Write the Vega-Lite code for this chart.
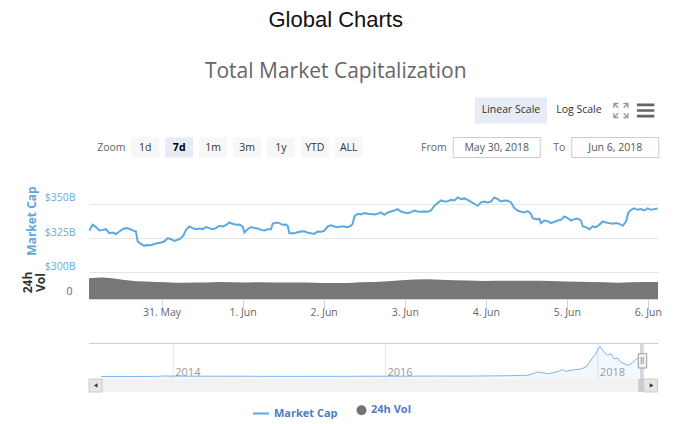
{
  "$schema": "https://vega.github.io/schema/vega-lite/v6.json",
  "background": "white",
  "padding": {"left": 21, "top": 9, "right": 5, "bottom": 0},
  "autosize": {"type": "pad"},
  "bounds": "flush",
  "spacing": 0,
  "title": {
    "text": "Global Charts",
    "subtitle": "Total Market Capitalization",
    "anchor": "middle",
    "frame": "bounds",
    "font": "Liberation Sans",
    "fontSize": 22,
    "fontWeight": "normal",
    "color": "#111111",
    "subtitleFont": "Open Sans",
    "subtitleFontSize": 21,
    "subtitleColor": "#666666",
    "subtitlePadding": 29,
    "offset": 6,
    "dx": -6
  },
  "config": {
    "view": {"stroke": null},
    "font": "Open Sans",
    "text": {"font": "Open Sans"},
    "axis": {"labelFont": "Open Sans", "titleFont": "Open Sans"},
    "concat": {"spacing": 0}
  },
  "vconcat": [
    {
      "width": 569,
      "height": 80,
      "layer": [
        {
          "data": {"values": [{"label": "Zoom"}, {"label": "1d"}, {"label": "7d"}, {"label": "1m"}, {"label": "3m"}, {"label": "1y"}, {"label": "YTD"}, {"label": "ALL"}]},
          "encoding": {
            "x": {"field": "label", "type": "nominal", "axis": null, "scale": {"type": "band", "domain": ["Zoom", "1d", "7d", "1m", "3m", "1y", "YTD", "ALL", "_a", "_b", "_c", "_d", "_e", "_f", "_g", "_h"], "paddingInner": 0, "paddingOuter": 0.392, "align": 0.205, "round": false}},
            "y": {"datum": "r2", "type": "nominal", "axis": null, "scale": {"type": "band", "domain": ["r1", "r2"], "paddingInner": 0, "paddingOuter": 0.081, "round": false}}
          },
          "layer": [
            {
              "transform": [{"filter": "datum.label != 'Zoom'"}],
              "mark": {"type": "rect", "width": 28, "height": 20},
              "encoding": {"fill": {"condition": {"test": "datum.label == '7d'", "value": "#e6ebf5"}, "value": "#f7f7f7"}}
            },
            {
              "transform": [{"filter": "datum.label != '7d'"}],
              "mark": {"type": "text", "fontSize": 10.5},
              "encoding": {
                "text": {"field": "label"},
                "color": {"condition": {"test": "datum.label == 'Zoom'", "value": "#666666"}, "value": "#333333"}
              }
            },
            {
              "transform": [{"filter": "datum.label == '7d'"}],
              "mark": {"type": "text", "fontSize": 10.5, "fontWeight": "bold", "color": "#000000"},
              "encoding": {"text": {"field": "label"}}
            }
          ]
        },
        {
          "data": {"values": [{"label": "From", "date": "May 30, 2018"}, {"label": "To", "date": "Jun 6, 2018"}]},
          "encoding": {
            "x": {"field": "date", "type": "nominal", "axis": null, "scale": {"type": "band", "domain": ["_a", "_b", "_c", "May 30, 2018", "Jun 6, 2018"], "paddingInner": 0.3, "paddingOuter": 0.05, "align": 0.896, "round": false}},
            "y": {"datum": "r2", "type": "nominal", "axis": null, "scale": {"type": "band", "domain": ["r1", "r2"], "paddingInner": 0, "paddingOuter": 0.081, "round": false}}
          },
          "layer": [
            {"mark": {"type": "rect", "width": 87, "height": 20, "fill": "#ffffff", "stroke": "#cccccc", "strokeWidth": 1}},
            {"mark": {"type": "text", "fontSize": 10.5, "color": "#555555"}, "encoding": {"text": {"field": "date"}}},
            {"mark": {"type": "text", "fontSize": 10.5, "color": "#666666", "align": "right", "dx": -50}, "encoding": {"text": {"field": "label"}}}
          ]
        },
        {
          "data": {"values": [{"label": "Linear Scale"}, {"label": "Log Scale"}]},
          "encoding": {
            "x": {"field": "label", "type": "nominal", "axis": null, "scale": {"type": "band", "domain": ["_a", "_b", "_c", "_d", "_e", "Linear Scale", "Log Scale"], "paddingInner": 0, "paddingOuter": 0.684, "align": 0.516, "round": false}},
            "y": {"datum": "r1", "type": "nominal", "axis": null, "scale": {"type": "band", "domain": ["r1", "r2"], "paddingInner": 0, "paddingOuter": 0.081, "round": false}}
          },
          "layer": [
            {
              "transform": [{"filter": "datum.label == 'Linear Scale'"}],
              "mark": {"type": "rect", "width": 72, "height": 26, "fill": "#e6ebf5"}
            },
            {"mark": {"type": "text", "fontSize": 10.5, "color": "#333333"}, "encoding": {"text": {"field": "label"}}}
          ]
        },
        {
          "data": {"values": [{"icon": "full"}, {"icon": "menu"}]},
          "encoding": {
            "x": {"field": "icon", "type": "nominal", "axis": null, "scale": {"type": "band", "domain": ["_01", "_02", "_03", "_04", "_05", "_06", "_07", "_08", "_09", "_10", "_11", "_12", "_13", "_14", "_15", "_16", "_17", "_18", "_19", "_20", "_21", "full", "menu"], "paddingInner": 0, "paddingOuter": 0, "align": 0.5, "round": false}},
            "y": {"datum": "r1", "type": "nominal", "axis": null, "scale": {"type": "band", "domain": ["r1", "r2"], "paddingInner": 0, "paddingOuter": 0.081, "round": false}}
          },
          "layer": [
            {
              "transform": [{"filter": "datum.icon == 'full'"}],
              "mark": {"type": "point", "shape": "M-1,-0.35V-1H-0.35M-1,-1L-0.4,-0.4M1,-0.35V-1H0.35M1,-1L0.4,-0.4M-1,0.35V1H-0.35M-1,1L-0.4,0.4M1,0.35V1H0.35M1,1L0.4,0.4", "size": 196, "filled": false, "color": "#999999", "strokeWidth": 1.3, "opacity": 1}
            },
            {
              "transform": [{"filter": "datum.icon == 'menu'"}],
              "mark": {"type": "point", "shape": "M-1,-0.8H1V-0.5H-1Z M-1,-0.15H1V0.15H-1Z M-1,0.5H1V0.8H-1Z", "size": 306, "filled": true, "color": "#666666", "strokeWidth": 0, "opacity": 1}
            }
          ]
        }
      ],
      "resolve": {"scale": {"x": "independent"}}
    },
    {
      "width": 569,
      "height": 130,
      "layer": [
        {
          "data": {"values": [
            {"t":"2018-05-30T02:30Z","vol":15.6},{"t":"2018-05-30T04:36Z","vol":16.0},{"t":"2018-05-30T06:30Z","vol":16.3},{"t":"2018-05-30T08:30Z","vol":15.8},
            {"t":"2018-05-30T10:30Z","vol":15.3},{"t":"2018-05-30T12:30Z","vol":14.5},{"t":"2018-05-30T14:24Z","vol":14.0},{"t":"2018-05-30T16:24Z","vol":13.4},
            {"t":"2018-05-30T19:24Z","vol":13.2},{"t":"2018-05-30T22:18Z","vol":12.9},{"t":"2018-05-31T01:18Z","vol":12.7},{"t":"2018-05-31T04:18Z","vol":12.3},
            {"t":"2018-05-31T07:12Z","vol":12.2},{"t":"2018-05-31T10:12Z","vol":12.4},{"t":"2018-05-31T13:12Z","vol":12.5},{"t":"2018-05-31T17:06Z","vol":12.8},
            {"t":"2018-05-31T21:00Z","vol":12.6},{"t":"2018-06-01T01:00Z","vol":12.5},{"t":"2018-06-01T04:54Z","vol":12.6},{"t":"2018-06-01T08:54Z","vol":12.5},
            {"t":"2018-06-01T12:48Z","vol":12.5},{"t":"2018-06-01T15:18Z","vol":12.5},{"t":"2018-06-01T19:12Z","vol":12.4},{"t":"2018-06-01T23:12Z","vol":12.0},
            {"t":"2018-06-02T03:12Z","vol":12.0},{"t":"2018-06-02T07:06Z","vol":12.1},{"t":"2018-06-02T11:00Z","vol":12.6},{"t":"2018-06-02T15:00Z","vol":12.8},
            {"t":"2018-06-02T19:00Z","vol":13.4},{"t":"2018-06-02T22:54Z","vol":14.2},{"t":"2018-06-03T02:48Z","vol":14.8},{"t":"2018-06-03T06:48Z","vol":14.9},
            {"t":"2018-06-03T10:42Z","vol":14.6},{"t":"2018-06-03T14:42Z","vol":14.2},{"t":"2018-06-03T18:36Z","vol":14.0},{"t":"2018-06-03T23:36Z","vol":13.6},
            {"t":"2018-06-04T03:30Z","vol":13.7},{"t":"2018-06-04T07:30Z","vol":13.8},{"t":"2018-06-04T11:24Z","vol":13.7},{"t":"2018-06-04T15:24Z","vol":13.8},
            {"t":"2018-06-04T19:18Z","vol":13.6},{"t":"2018-06-04T23:18Z","vol":13.2},{"t":"2018-06-05T03:12Z","vol":13.0},{"t":"2018-06-05T07:12Z","vol":12.9},
            {"t":"2018-06-05T11:06Z","vol":12.6},{"t":"2018-06-05T15:06Z","vol":12.2},{"t":"2018-06-05T19:00Z","vol":12.7},{"t":"2018-06-05T23:00Z","vol":12.8},
            {"t":"2018-06-06T03:00Z","vol":12.8}
          ]},
          "mark": {"type": "area", "color": "#777777", "opacity": 1},
          "encoding": {
            "x": {"field": "t", "type": "temporal",
              "scale": {"type": "utc", "domain": [{"year":2018,"month":5,"date":30,"hours":2,"minutes":30,"utc":true},{"year":2018,"month":6,"date":6,"hours":3,"utc":true}]},
              "axis": {"title": null, "values": [{"year":2018,"month":5,"date":31,"utc":true},{"year":2018,"month":6,"date":1,"utc":true},{"year":2018,"month":6,"date":2,"utc":true},{"year":2018,"month":6,"date":3,"utc":true},{"year":2018,"month":6,"date":4,"utc":true},{"year":2018,"month":6,"date":5,"utc":true},{"year":2018,"month":6,"date":6,"utc":true}],
                "labelExpr": "utcFormat(datum.value, '%-d. %b')", "grid": false, "domainColor": "#ccd6eb", "tickColor": "#ccd6eb", "tickSize": 10,
                "labelColor": "#666666", "labelFontSize": 10.5, "labelBaseline": "alphabetic", "labelPadding": 6, "labelFlush": false, "labelOverlap": false}},
            "y": {"field": "vol", "type": "quantitative", "scale": {"domain": [0, 98.1], "nice": false, "zero": false},
              "axis": {"orient": "left", "title": ["24h", "Vol"], "values": [0], "grid": false, "domain": false, "ticks": false,
                "labelColor": "#666666", "labelFontSize": 10.5, "labelPadding": 17, "labelBaseline": "alphabetic", "labelOffset": -4.5,
                "titleColor": "#333333", "titleFontSize": 12, "titleFontWeight": "bold", "titleX": -57.3, "titleY": 113, "titleBaseline": "alphabetic", "titleLineHeight": 12.6}}
          }
        },
        {
          "data": {"values": [
            {"t":"2018-05-30T02:36Z","v":330.6},{"t":"2018-05-30T03:35Z","v":334.7},{"t":"2018-05-30T04:34Z","v":333.0},{"t":"2018-05-30T05:34Z","v":330.6},
            {"t":"2018-05-30T06:33Z","v":331.0},{"t":"2018-05-30T07:32Z","v":331.5},{"t":"2018-05-30T08:31Z","v":328.6},{"t":"2018-05-30T09:31Z","v":329.0},
            {"t":"2018-05-30T10:30Z","v":328.0},{"t":"2018-05-30T11:29Z","v":329.8},{"t":"2018-05-30T12:28Z","v":331.5},{"t":"2018-05-30T13:28Z","v":332.3},
            {"t":"2018-05-30T14:26Z","v":331.8},{"t":"2018-05-30T15:26Z","v":330.6},{"t":"2018-05-30T16:25Z","v":329.8},{"t":"2018-05-30T16:55Z","v":322.5},
            {"t":"2018-05-30T17:54Z","v":320.8},{"t":"2018-05-30T18:53Z","v":319.4},{"t":"2018-05-30T19:52Z","v":320.0},{"t":"2018-05-30T20:52Z","v":319.9},
            {"t":"2018-05-30T21:51Z","v":320.8},{"t":"2018-05-30T22:50Z","v":321.3},{"t":"2018-05-30T23:49Z","v":321.8},{"t":"2018-05-31T00:49Z","v":322.5},
            {"t":"2018-05-31T01:48Z","v":325.0},{"t":"2018-05-31T02:47Z","v":324.2},{"t":"2018-05-31T03:46Z","v":323.0},{"t":"2018-05-31T04:46Z","v":323.8},
            {"t":"2018-05-31T05:45Z","v":325.0},{"t":"2018-05-31T06:26Z","v":326.7},{"t":"2018-05-31T07:14Z","v":331.0},{"t":"2018-05-31T08:13Z","v":333.5},
            {"t":"2018-05-31T09:12Z","v":332.3},{"t":"2018-05-31T10:11Z","v":331.5},{"t":"2018-05-31T11:11Z","v":332.0},{"t":"2018-05-31T12:10Z","v":331.5},
            {"t":"2018-05-31T13:09Z","v":333.0},{"t":"2018-05-31T14:08Z","v":332.3},{"t":"2018-05-31T15:07Z","v":331.5},{"t":"2018-05-31T16:07Z","v":332.3},
            {"t":"2018-05-31T17:06Z","v":334.0},{"t":"2018-05-31T18:05Z","v":333.5},{"t":"2018-05-31T19:04Z","v":334.4},{"t":"2018-05-31T20:04Z","v":336.4},
            {"t":"2018-05-31T21:03Z","v":335.4},{"t":"2018-05-31T22:02Z","v":334.7},{"t":"2018-05-31T23:01Z","v":334.9},{"t":"2018-06-01T00:01Z","v":333.5},
            {"t":"2018-06-01T00:30Z","v":329.1},{"t":"2018-06-01T01:29Z","v":331.5},{"t":"2018-06-01T02:29Z","v":333.0},{"t":"2018-06-01T03:28Z","v":332.3},
            {"t":"2018-06-01T04:27Z","v":332.0},{"t":"2018-06-01T05:26Z","v":331.0},{"t":"2018-06-01T06:26Z","v":330.6},{"t":"2018-06-01T07:25Z","v":331.5},
            {"t":"2018-06-01T08:24Z","v":331.5},{"t":"2018-06-01T08:53Z","v":335.4},{"t":"2018-06-01T09:53Z","v":336.4},{"t":"2018-06-01T10:52Z","v":335.9},
            {"t":"2018-06-01T11:51Z","v":334.7},{"t":"2018-06-01T12:50Z","v":334.9},{"t":"2018-06-01T13:20Z","v":334.0},{"t":"2018-06-01T13:50Z","v":328.6},
            {"t":"2018-06-01T15:19Z","v":328.6},{"t":"2018-06-01T16:18Z","v":329.3},{"t":"2018-06-01T17:17Z","v":329.8},{"t":"2018-06-01T18:16Z","v":330.0},
            {"t":"2018-06-01T19:16Z","v":329.0},{"t":"2018-06-01T20:14Z","v":328.6},{"t":"2018-06-01T21:14Z","v":328.1},{"t":"2018-06-01T22:13Z","v":329.8},
            {"t":"2018-06-01T23:13Z","v":329.6},{"t":"2018-06-02T00:11Z","v":330.3},{"t":"2018-06-02T01:11Z","v":333.5},{"t":"2018-06-02T02:10Z","v":334.4},
            {"t":"2018-06-02T03:09Z","v":333.5},{"t":"2018-06-02T04:08Z","v":333.0},{"t":"2018-06-02T05:08Z","v":333.5},{"t":"2018-06-02T06:07Z","v":333.5},
            {"t":"2018-06-02T07:06Z","v":333.0},{"t":"2018-06-02T08:05Z","v":334.0},{"t":"2018-06-02T08:35Z","v":335.4},{"t":"2018-06-02T09:05Z","v":340.8},
            {"t":"2018-06-02T10:04Z","v":342.7},{"t":"2018-06-02T11:03Z","v":342.2},{"t":"2018-06-02T12:02Z","v":343.2},{"t":"2018-06-02T13:02Z","v":342.7},
            {"t":"2018-06-02T14:01Z","v":342.5},{"t":"2018-06-02T15:00Z","v":342.2},{"t":"2018-06-02T15:59Z","v":342.7},{"t":"2018-06-02T16:58Z","v":343.7},
            {"t":"2018-06-02T17:58Z","v":342.0},{"t":"2018-06-02T18:57Z","v":343.7},{"t":"2018-06-02T19:56Z","v":344.4},{"t":"2018-06-02T20:55Z","v":345.1},
            {"t":"2018-06-02T21:55Z","v":346.1},{"t":"2018-06-02T22:54Z","v":344.4},{"t":"2018-06-02T23:53Z","v":343.7},{"t":"2018-06-03T00:52Z","v":343.2},
            {"t":"2018-06-03T01:52Z","v":343.9},{"t":"2018-06-03T02:51Z","v":345.1},{"t":"2018-06-03T03:50Z","v":344.4},{"t":"2018-06-03T04:49Z","v":344.2},
            {"t":"2018-06-03T05:49Z","v":344.4},{"t":"2018-06-03T06:47Z","v":344.2},{"t":"2018-06-03T07:47Z","v":345.1},{"t":"2018-06-03T08:46Z","v":348.5},
            {"t":"2018-06-03T09:46Z","v":350.5},{"t":"2018-06-03T10:44Z","v":352.4},{"t":"2018-06-03T11:44Z","v":351.7},{"t":"2018-06-03T12:43Z","v":351.9},
            {"t":"2018-06-03T13:43Z","v":352.9},{"t":"2018-06-03T14:41Z","v":352.4},{"t":"2018-06-03T15:41Z","v":354.6},{"t":"2018-06-03T16:40Z","v":353.4},
            {"t":"2018-06-03T17:39Z","v":353.9},{"t":"2018-06-03T18:38Z","v":352.9},{"t":"2018-06-03T19:38Z","v":351.4},{"t":"2018-06-03T20:37Z","v":350.0},
            {"t":"2018-06-03T21:36Z","v":348.5},{"t":"2018-06-03T22:35Z","v":351.0},{"t":"2018-06-03T23:35Z","v":351.7},{"t":"2018-06-04T00:34Z","v":351.0},
            {"t":"2018-06-04T01:33Z","v":351.5},{"t":"2018-06-04T02:32Z","v":354.6},{"t":"2018-06-04T03:32Z","v":353.4},{"t":"2018-06-04T04:31Z","v":351.7},
            {"t":"2018-06-04T05:30Z","v":352.4},{"t":"2018-06-04T06:29Z","v":352.2},{"t":"2018-06-04T07:29Z","v":351.0},{"t":"2018-06-04T08:28Z","v":346.8},
            {"t":"2018-06-04T09:27Z","v":345.1},{"t":"2018-06-04T10:26Z","v":344.2},{"t":"2018-06-04T11:25Z","v":343.7},{"t":"2018-06-04T12:25Z","v":344.7},
            {"t":"2018-06-04T13:24Z","v":342.7},{"t":"2018-06-04T13:53Z","v":339.5},{"t":"2018-06-04T14:53Z","v":338.8},{"t":"2018-06-04T15:52Z","v":339.0},
            {"t":"2018-06-04T16:22Z","v":335.9},{"t":"2018-06-04T17:21Z","v":337.8},{"t":"2018-06-04T18:20Z","v":337.4},{"t":"2018-06-04T19:19Z","v":335.9},
            {"t":"2018-06-04T20:19Z","v":336.9},{"t":"2018-06-04T21:18Z","v":337.8},{"t":"2018-06-04T22:17Z","v":338.3},{"t":"2018-06-04T23:16Z","v":340.8},
            {"t":"2018-06-05T00:16Z","v":339.5},{"t":"2018-06-05T01:15Z","v":337.8},{"t":"2018-06-05T02:14Z","v":338.8},{"t":"2018-06-05T03:13Z","v":339.3},
            {"t":"2018-06-05T04:13Z","v":337.8},{"t":"2018-06-05T04:42Z","v":333.5},{"t":"2018-06-05T05:41Z","v":333.0},{"t":"2018-06-05T06:41Z","v":331.5},
            {"t":"2018-06-05T07:40Z","v":333.5},{"t":"2018-06-05T08:39Z","v":333.0},{"t":"2018-06-05T09:38Z","v":334.7},{"t":"2018-06-05T10:37Z","v":337.1},
            {"t":"2018-06-05T11:37Z","v":336.4},{"t":"2018-06-05T12:36Z","v":335.9},{"t":"2018-06-05T13:35Z","v":335.4},{"t":"2018-06-05T14:34Z","v":335.9},
            {"t":"2018-06-05T15:34Z","v":335.4},{"t":"2018-06-05T16:33Z","v":334.0},{"t":"2018-06-05T17:32Z","v":337.1},{"t":"2018-06-05T18:13Z","v":343.7},
            {"t":"2018-06-05T19:01Z","v":345.6},{"t":"2018-06-05T20:00Z","v":346.6},{"t":"2018-06-05T20:59Z","v":345.6},{"t":"2018-06-05T21:58Z","v":346.1},
            {"t":"2018-06-05T22:58Z","v":345.1},{"t":"2018-06-05T23:57Z","v":346.6},{"t":"2018-06-06T00:56Z","v":345.6},{"t":"2018-06-06T01:55Z","v":346.1},
            {"t":"2018-06-06T02:55Z","v":346.6}
          ]},
          "mark": {"type": "line", "color": "#5ca9df", "strokeWidth": 2},
          "encoding": {
            "x": {"field": "t", "type": "temporal",
              "scale": {"type": "utc", "domain": [{"year":2018,"month":5,"date":30,"hours":2,"minutes":30,"utc":true},{"year":2018,"month":6,"date":6,"hours":3,"utc":true}]},
              "axis": {"title": null, "values": [{"year":2018,"month":5,"date":31,"utc":true},{"year":2018,"month":6,"date":1,"utc":true},{"year":2018,"month":6,"date":2,"utc":true},{"year":2018,"month":6,"date":3,"utc":true},{"year":2018,"month":6,"date":4,"utc":true},{"year":2018,"month":6,"date":5,"utc":true},{"year":2018,"month":6,"date":6,"utc":true}],
                "labelExpr": "utcFormat(datum.value, '%-d. %b')", "grid": false, "domainColor": "#ccd6eb", "tickColor": "#ccd6eb", "tickSize": 10,
                "labelColor": "#666666", "labelFontSize": 10.5, "labelBaseline": "alphabetic", "labelPadding": 6, "labelFlush": false, "labelOverlap": false}},
            "y": {"field": "v", "type": "quantitative", "scale": {"domain": [280.7, 375.3], "nice": false, "zero": false},
              "axis": {"orient": "left", "title": "Market Cap", "values": [300, 325, 350], "labelExpr": "'$' + datum.value + 'B'",
                "grid": true, "gridColor": "#e6e6e6", "domain": false, "ticks": false,
                "labelColor": "#67ade2", "labelFontSize": 10.5, "labelPadding": 14, "labelBaseline": "alphabetic", "labelOffset": -3,
                "titleColor": "#5ca9df", "titleFontSize": 12, "titleFontWeight": "bold", "titleX": -53.5, "titleY": 51.5, "titleBaseline": "alphabetic"}}
          }
        }
      ],
      "resolve": {"scale": {"y": "independent"}}
    },
    {
      "width": 569,
      "height": 93,
      "layer": [
        {
          "data": {"values": [{}]},
          "mark": {"type": "rect", "fill": "#f2f2f2"},
          "encoding": {
            "x": {"datum": {"year":2013,"month":3,"date":17,"utc":true}, "type": "temporal", "axis": null, "scale": {"type": "utc", "domain": [{"year":2013,"month":3,"date":17,"utc":true},{"year":2018,"month":7,"date":27,"utc":true}]}},
            "x2": {"datum": {"year":2018,"month":7,"date":27,"utc":true}},
            "y": {"datum": -68.5, "type": "quantitative", "axis": null, "scale": {"domain": [-424.7, 2123.5], "nice": false, "zero": false}},
            "y2": {"datum": -424.7}
          }
        },
        {
          "data": {"values": [{}]},
          "mark": {"type": "rect", "fill": "#e6e6e6", "stroke": "#cccccc", "strokeWidth": 1},
          "encoding": {
            "x": {"datum": {"year":2013,"month":3,"date":17,"utc":true}, "type": "temporal"},
            "x2": {"datum": {"year":2013,"month":5,"date":1,"utc":true}},
            "y": {"datum": -68.5, "type": "quantitative"},
            "y2": {"datum": -424.7}
          }
        },
        {
          "data": {"values": [{}]},
          "mark": {"type": "rect", "fill": "#e6e6e6", "stroke": "#cccccc", "strokeWidth": 1},
          "encoding": {
            "x": {"datum": {"year":2018,"month":6,"date":8,"utc":true}, "type": "temporal"},
            "x2": {"datum": {"year":2018,"month":7,"date":25,"utc":true}},
            "y": {"datum": -68.5, "type": "quantitative"},
            "y2": {"datum": -424.7}
          }
        },
        {
          "data": {"values": [{}]},
          "mark": {"type": "rect", "fill": "#cccccc"},
          "encoding": {
            "x": {"datum": {"year":2018,"month":5,"date":20,"utc":true}, "type": "temporal"},
            "x2": {"datum": {"year":2018,"month":6,"date":8,"utc":true}},
            "y": {"datum": -68.5, "type": "quantitative"},
            "y2": {"datum": -424.7}
          }
        },
        {
          "data": {"values": [{"d": "2014-01-01", "label": "2014"}, {"d": "2016-01-01", "label": "2016"}, {"d": "2018-01-01", "label": "2018"}]},
          "mark": {"type": "rule", "color": "#e6e6e6", "strokeWidth": 1},
          "encoding": {
            "x": {"field": "d", "type": "temporal"},
            "y": {"datum": 904, "type": "quantitative"},
            "y2": {"datum": -68.5}
          }
        },
        {
          "data": {"values": [
            {"d":"2013-04-28","v":1.5},{"d":"2013-08-01","v":1.3},{"d":"2013-10-15","v":2.2},{"d":"2013-11-15","v":6},
            {"d":"2013-12-04","v":16},{"d":"2013-12-20","v":9},{"d":"2014-01-05","v":12},{"d":"2014-03-01","v":9},
            {"d":"2014-06-01","v":8},{"d":"2014-10-01","v":6},{"d":"2015-01-15","v":3.5},{"d":"2015-06-01","v":4},
            {"d":"2015-11-05","v":6.5},{"d":"2016-01-01","v":7},{"d":"2016-06-15","v":12},{"d":"2016-10-01","v":11},
            {"d":"2017-01-05","v":17},{"d":"2017-03-01","v":21},{"d":"2017-04-10","v":27},{"d":"2017-05-05","v":33},
            {"d":"2017-05-25","v":80},{"d":"2017-06-08","v":123},{"d":"2017-07-01","v":96},{"d":"2017-07-18","v":77},
            {"d":"2017-08-16","v":132},{"d":"2017-09-02","v":186},{"d":"2017-09-13","v":142},{"d":"2017-10-12","v":186},
            {"d":"2017-11-04","v":205},{"d":"2017-11-21","v":260},{"d":"2017-12-02","v":370},{"d":"2017-12-14","v":515},
            {"d":"2017-12-22","v":581},{"d":"2017-12-31","v":718},{"d":"2018-01-08","v":828},{"d":"2018-01-11","v":790},
            {"d":"2018-01-23","v":671},{"d":"2018-02-03","v":581},{"d":"2018-02-15","v":625},{"d":"2018-02-26","v":488},
            {"d":"2018-03-10","v":507},{"d":"2018-03-21","v":397},{"d":"2018-04-01","v":351},{"d":"2018-04-19","v":307},
            {"d":"2018-04-30","v":378},{"d":"2018-05-12","v":471},{"d":"2018-05-20","v":507},{"d":"2018-06-06","v":346}
          ]},
          "encoding": {
            "x": {"field": "d", "type": "temporal"},
            "y": {"field": "v", "type": "quantitative"}
          },
          "layer": [
            {"mark": {"type": "area", "color": "#7cb5ec", "fillOpacity": 0.09}, "encoding": {"y2": {"datum": -68.5}}},
            {"mark": {"type": "line", "color": "#7cb5ec", "strokeWidth": 1}}
          ]
        },
        {
          "data": {"values": [{}]},
          "mark": {"type": "rect", "fill": "#cfd4dd", "opacity": 0.9},
          "encoding": {
            "x": {"datum": {"year":2018,"month":5,"date":26,"utc":true}, "type": "temporal"},
            "x2": {"datum": {"year":2018,"month":6,"date":8,"utc":true}},
            "y": {"datum": 904, "type": "quantitative"},
            "y2": {"datum": -68.5}
          }
        },
        {
          "data": {"values": [{}]},
          "mark": {"type": "rule", "color": "#cccccc", "strokeWidth": 1},
          "encoding": {"y": {"datum": 904, "type": "quantitative"}}
        },
        {
          "data": {"values": [{"d": "2014-01-01", "label": "2014"}, {"d": "2016-01-01", "label": "2016"}, {"d": "2018-01-01", "label": "2018"}]},
          "mark": {"type": "text", "align": "left", "baseline": "alphabetic", "dx": 2, "fontSize": 11, "color": "#999999"},
          "encoding": {
            "x": {"field": "d", "type": "temporal"},
            "y": {"datum": 5, "type": "quantitative"},
            "text": {"field": "label"}
          }
        },
        {
          "data": {"values": [{}]},
          "mark": {"type": "rect", "fill": "#f2f2f2", "stroke": "#999999", "strokeWidth": 1},
          "encoding": {
            "x": {"datum": {"year":2018,"month":5,"date":20,"utc":true}, "type": "temporal"},
            "x2": {"datum": {"year":2018,"month":6,"date":18,"utc":true}},
            "y": {"datum": 624.7, "type": "quantitative"},
            "y2": {"datum": 232.9}
          }
        },
        {
          "data": {"values": [{"d": "2018-05-30T02:30Z"}, {"d": "2018-06-06T03:00Z"}]},
          "mark": {"type": "rule", "color": "#999999", "strokeWidth": 1},
          "encoding": {
            "x": {"field": "d", "type": "temporal"},
            "y": {"datum": 534, "type": "quantitative"},
            "y2": {"datum": 342.5}
          }
        },
        {
          "data": {"values": [{}]},
          "mark": {"type": "point", "shape": "triangle-left", "size": 18, "filled": true, "color": "#333333", "opacity": 1},
          "encoding": {
            "x": {"datum": {"year":2013,"month":4,"date":9,"utc":true}, "type": "temporal"},
            "y": {"datum": -246, "type": "quantitative"}
          }
        },
        {
          "data": {"values": [{}]},
          "mark": {"type": "point", "shape": "triangle-right", "size": 18, "filled": true, "color": "#333333", "opacity": 1},
          "encoding": {
            "x": {"datum": {"year":2018,"month":7,"date":5,"utc":true}, "type": "temporal"},
            "y": {"datum": -246, "type": "quantitative"}
          }
        },
        {
          "data": {"values": [{"series": "Market Cap"}, {"series": "24h Vol"}]},
          "mark": {"type": "point", "filled": true, "opacity": 0},
          "encoding": {
            "fill": {"field": "series", "type": "nominal",
              "scale": {"domain": ["Market Cap", "24h Vol"], "range": ["#5ca9df", "#737373"]},
              "legend": {"orient": "none", "legendX": 163, "legendY": 315.5, "direction": "horizontal", "title": null,
                "labelFont": "Open Sans", "labelFontSize": 11, "labelFontWeight": "bold", "labelColor": "#4e7dbf",
                "symbolStrokeWidth": 2, "symbolOpacity": 1, "columnPadding": 15, "labelOffset": 4}},
            "stroke": {"field": "series", "type": "nominal",
              "scale": {"domain": ["Market Cap", "24h Vol"], "range": ["#5ca9df", "#737373"]},
              "legend": {"orient": "none", "legendX": 163, "legendY": 315.5, "direction": "horizontal", "title": null,
                "labelFont": "Open Sans", "labelFontSize": 11, "labelFontWeight": "bold", "labelColor": "#4e7dbf",
                "symbolStrokeWidth": 2, "symbolOpacity": 1, "columnPadding": 15, "labelOffset": 4}},
            "shape": {"field": "series", "type": "nominal",
              "scale": {"domain": ["Market Cap", "24h Vol"], "range": ["stroke", "circle"]},
              "legend": {"orient": "none", "legendX": 163, "legendY": 315.5, "direction": "horizontal", "title": null,
                "labelFont": "Open Sans", "labelFontSize": 11, "labelFontWeight": "bold", "labelColor": "#4e7dbf",
                "symbolStrokeWidth": 2, "symbolOpacity": 1, "columnPadding": 15, "labelOffset": 4}},
            "size": {"field": "series", "type": "nominal",
              "scale": {"domain": ["Market Cap", "24h Vol"], "range": [256, 64]},
              "legend": {"orient": "none", "legendX": 163, "legendY": 315.5, "direction": "horizontal", "title": null,
                "labelFont": "Open Sans", "labelFontSize": 11, "labelFontWeight": "bold", "labelColor": "#4e7dbf",
                "symbolStrokeWidth": 2, "symbolOpacity": 1, "columnPadding": 15, "labelOffset": 4}}
          }
        }
      ]
    }
  ]
}
